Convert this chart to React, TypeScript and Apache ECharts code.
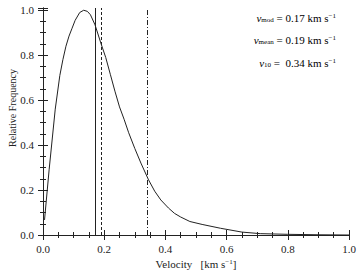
import React, { useEffect, useRef } from "react";
import * as echarts from "echarts";

const velocity = [0.005, 0.02, 0.04, 0.055, 0.065, 0.075, 0.085, 0.095, 0.105, 0.12, 0.133, 0.145, 0.155, 0.17, 0.19, 0.205, 0.22, 0.235, 0.25, 0.265, 0.28, 0.3, 0.32, 0.345, 0.365, 0.385, 0.41, 0.43, 0.45, 0.48, 0.52, 0.58, 0.65, 0.71, 0.8, 0.9, 1.0];
const frequency = [0.067, 0.29, 0.56, 0.71, 0.78, 0.84, 0.885, 0.92, 0.955, 0.99, 1.0, 0.995, 0.98, 0.935, 0.85, 0.79, 0.715, 0.64, 0.57, 0.515, 0.455, 0.385, 0.32, 0.245, 0.195, 0.156, 0.12, 0.096, 0.08, 0.06, 0.047, 0.03, 0.013, 0.006, 0.003, 0.001, 0.0];

const markerValues = [0.17, 0.19, 0.345];
const markerStyles: any[] = ["solid", [3, 2], [5, 2, 1, 2]];
const annotationNames = ["mod", "mean", "10"];
const annotationValues = ["0.17", "0.19", "0.34"];
const xTicks = [0, 0.2, 0.4, 0.6, 0.8, 1.0];
const yTitle = "Relative Frequency";

const FONT = "'Liberation Serif', 'Times New Roman', serif";
const INK = "#222";

export default function App() {
  const ref = useRef<HTMLDivElement>(null);
  useEffect(() => {
    if (!ref.current) return;
    const chart = echarts.init(ref.current, null, { renderer: "svg" });
    const tickCommon = {
      axisLine: { show: true, lineStyle: { color: INK, width: 1 } },
      axisTick: { show: true, inside: false, length: 5, lineStyle: { color: INK } },
      minorTick: { show: true, splitNumber: 4, length: 3, lineStyle: { color: INK } },
      splitLine: { show: false },
      minorSplitLine: { show: false },
    };
    const isMajor = (v: number) => Math.abs(v / 0.2 - Math.round(v / 0.2)) < 1e-6;
    const labelStyle = { fontFamily: FONT, fontSize: 11, color: INK };
    const rich = {
      v: { fontFamily: FONT, fontSize: 11, fontStyle: "italic", color: INK },
      sub: { fontFamily: FONT, fontSize: 7, color: INK, verticalAlign: "bottom", lineHeight: 9 },
      t: { fontFamily: FONT, fontSize: 11, color: INK },
      sup: { fontFamily: FONT, fontSize: 7, color: INK, verticalAlign: "top", lineHeight: 9 },
    };
    const annY = [20, 42, 65];
    chart.setOption({
      animation: false,
      backgroundColor: "#fff",
      textStyle: { fontFamily: FONT },
      grid: { left: 43, right: 11, top: 8, bottom: 35, containLabel: false, outerBoundsMode: "none" },
      xAxis: [
        {
          type: "value",
          min: xTicks[0],
          max: xTicks[xTicks.length - 1],
          interval: 0.2,
          position: "bottom",
          ...tickCommon,
          axisLabel: { ...labelStyle, margin: 8, formatter: (v: number) => (isMajor(v) ? v.toFixed(1) : "") },
          name: "Velocity   [km s{sup|\u22121}]",
          nameLocation: "middle",
          nameGap: 19,
          nameTextStyle: {
            fontFamily: FONT,
            fontSize: 11,
            color: INK,
            rich: { sup: { fontFamily: FONT, fontSize: 7, color: INK, verticalAlign: "top", lineHeight: 8 } },
          },
        },
        {
          type: "value",
          min: 0,
          max: 1,
          interval: 0.2,
          position: "top",
          ...tickCommon,
          axisLabel: { show: false },
        },
      ],
      yAxis: [
        {
          type: "value",
          min: 0,
          max: 1.01,
          interval: 0.2,
          position: "left",
          ...tickCommon,
          axisLabel: { ...labelStyle, margin: 9, formatter: (v: number) => (isMajor(v) ? v.toFixed(1) : "") },
        },
        {
          type: "value",
          min: 0,
          max: 1.01,
          interval: 0.2,
          position: "right",
          ...tickCommon,
          axisLabel: { show: false },
        },
      ],
      series: [
        {
          type: "line",
          data: velocity.map((v, i) => [v, frequency[i]]),
          showSymbol: false,
          smooth: false,
          lineStyle: { color: INK, width: 1 },
          markLine: {
            silent: true,
            symbol: "none",
            label: { show: false },
            data: markerValues.map((v, i) => ({
              xAxis: v,
              lineStyle: { color: INK, width: 1, type: markerStyles[i] },
            })),
          },
        },
      ],
      graphic: [
        ...annotationNames.map((n, i) => ({
          type: "text",
          right: 24,
          top: annY[i] - 8,
          style: {
            text: `{v|v}{sub|${n}}{t| = ${i === 2 ? " " : ""}${annotationValues[i]} km s}{sup|\u22121}`,
            rich,
            fontFamily: FONT,
            align: "right",
          },
        })),
        {
          type: "text",
          x: 12,
          y: 108,
          rotation: Math.PI / 2,
          style: {
            text: yTitle,
            fontFamily: FONT,
            fontSize: 10,
            fill: INK,
            align: "center",
            verticalAlign: "middle",
          },
        },
      ],
    });
    return () => chart.dispose();
  }, []);
  return <div ref={ref} style={{ width: 360, height: 270, position: "absolute", left: 0, top: 0 }} />;
}
